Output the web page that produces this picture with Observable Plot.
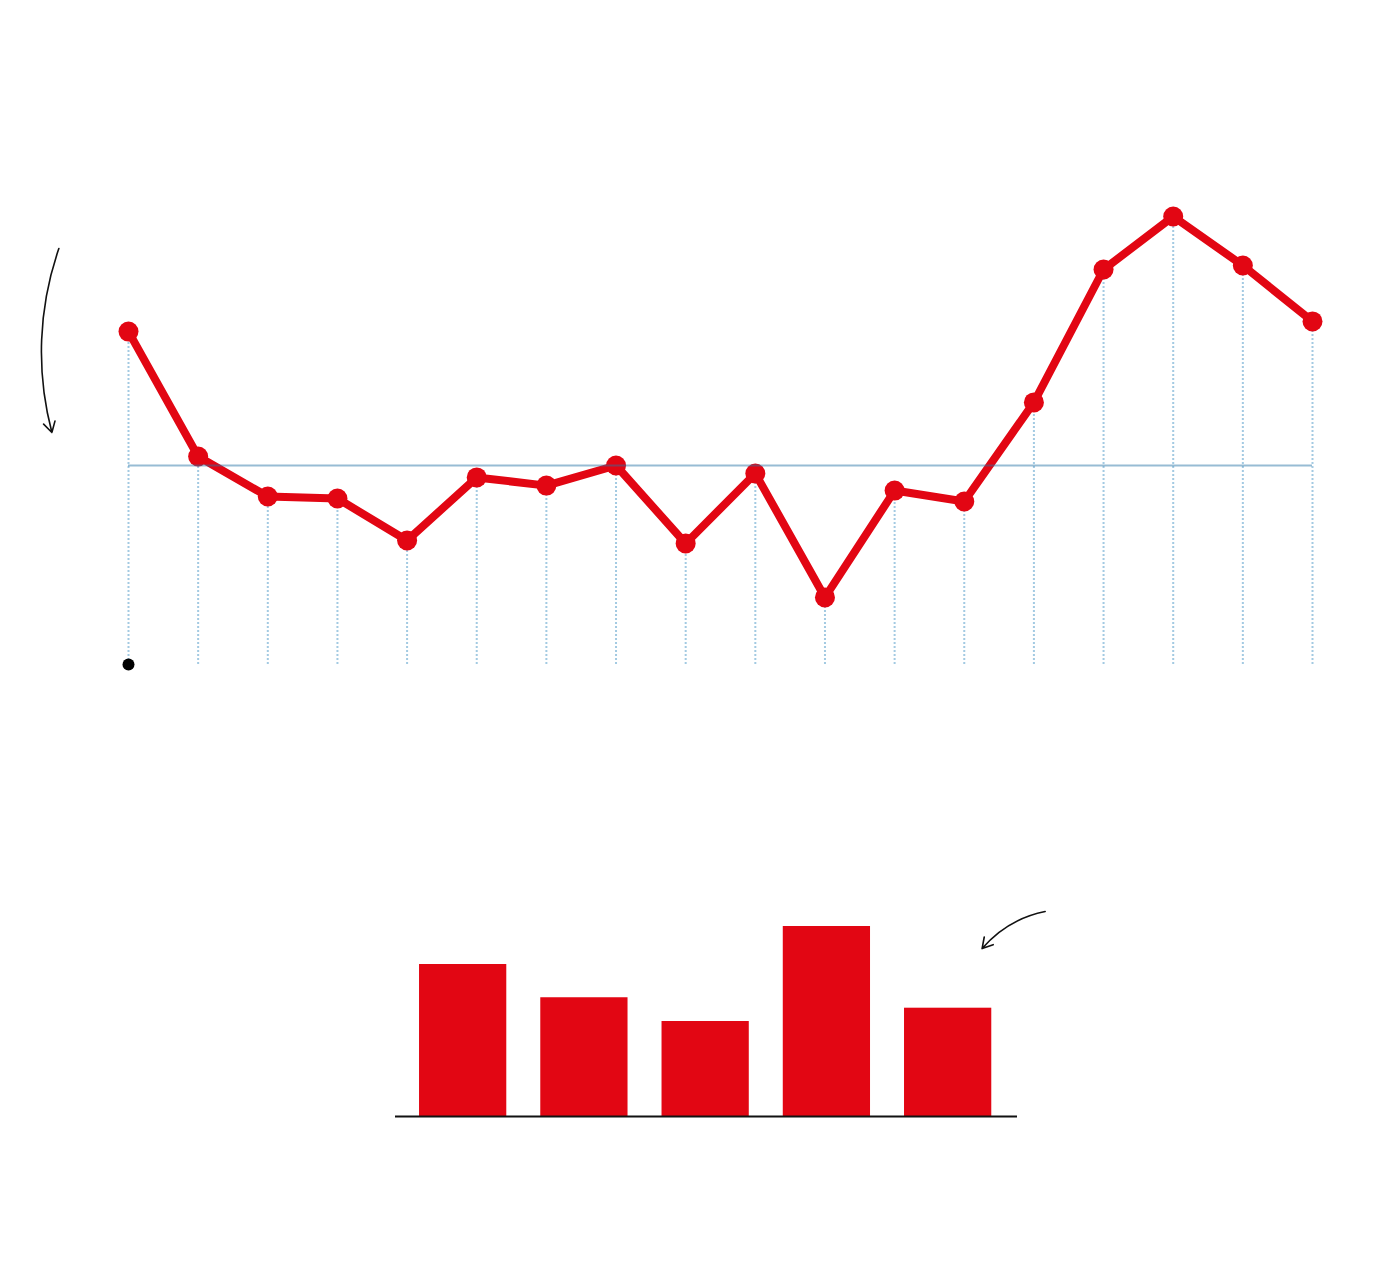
<!DOCTYPE html>
<html>
<head>
<meta charset="utf-8">
<script src="https://cdn.jsdelivr.net/npm/d3@7"></script>
<script src="https://cdn.jsdelivr.net/npm/@observablehq/plot@0.6"></script>
<style>
  html, body { margin: 0; padding: 0; background: #ffffff; }
  #chart svg { display: block; }
</style>
</head>
<body>
<div id="chart"></div>
<script>
// Line series (index, 100 = reference level)
const lineIndex = [0,1,2,3,4,5,6,7,8,9,10,11,12,13,14,15,16,17];
const lineValues = [167.3,104.5,84.4,83.4,62.3,94.0,89.9,100,60.8,96.0,33.7,87.4,81.9,131.7,198.5,225.1,200.5,172.4];
const referenceLevel = 100;

// Bar series
const barIndex = [0,1,2,3,4];
const barValues = [80,62.5,50,100,57];

// Annotation arrows (data units)
const lineArrow = [{x1: -1.0, y1: 209, x2: -1.1, y2: 116.6}];
const barArrow = [{x1: 5.30, y1: 107.9, x2: 4.78, y2: 88.4}];

const RED = "#e20613";
const lineData = lineIndex.map((i, k) => ({i, v: lineValues[k]}));
const barData = barIndex.map((i, k) => ({i, v: barValues[k]}));

const lineChart = Plot.plot({
  width: 1400,
  height: 760,
  marginLeft: 128,
  marginRight: 88,
  marginTop: 166.5,
  marginBottom: 96,
  x: {domain: [0, 17], axis: null},
  y: {domain: [0, 250], axis: null},
  marks: [
    Plot.ruleX(lineData, {x: "i", y1: 0, y2: "v", stroke: "#a3cae2", strokeWidth: 2, strokeDasharray: "2,2"}),
    Plot.line(lineData, {x: "i", y: "v", stroke: RED, strokeWidth: 8, strokeLinejoin: "round"}),
    Plot.dot(lineData, {x: "i", y: "v", r: 10, fill: RED, stroke: "none"}),
    Plot.ruleY([referenceLevel], {stroke: "#2573a5", strokeOpacity: 0.48, strokeWidth: 2}),
    Plot.dot([{i: 0, v: 0}], {x: "i", y: "v", r: 6, fill: "#000", stroke: "none"}),
    Plot.arrow(lineArrow, {x1: "x1", y1: "y1", x2: "x2", y2: "y2", bend: -17, stroke: "#111", strokeWidth: 1.6, headLength: 11})
  ]
});

const barChart = Plot.plot({
  width: 1400,
  height: 520,
  marginLeft: 395,
  marginRight: 383,
  marginTop: 166,
  marginBottom: 164,
  x: {domain: [-0.058, 5.072], axis: null},
  y: {domain: [0, 100], axis: null},
  marks: [
    Plot.rectY(barData, {x: "i", y: "v", interval: 1, insetLeft: 17, insetRight: 17, fill: RED}),
    Plot.ruleY([0], {stroke: "#111", strokeWidth: 2}),
    Plot.arrow(barArrow, {x1: "x1", y1: "y1", x2: "x2", y2: "y2", bend: -19, stroke: "#111", strokeWidth: 1.6, headLength: 11})
  ]
});

const el = document.getElementById("chart");
el.appendChild(lineChart);
el.appendChild(barChart);
</script>
</body>
</html>
